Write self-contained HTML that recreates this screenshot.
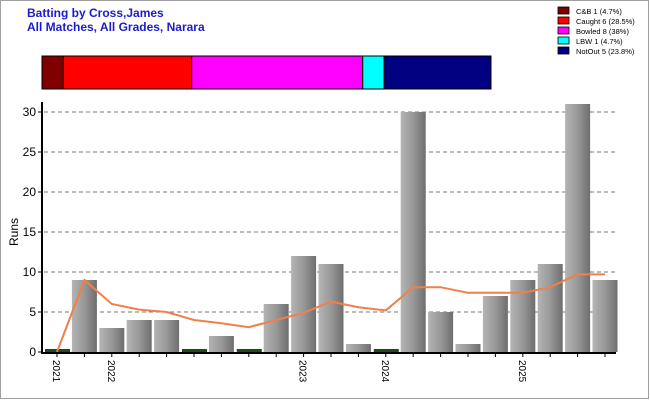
<!DOCTYPE html>
<html><head><meta charset="utf-8"><style>
body{margin:0;background:#fff}
svg{display:block;font-family:"Liberation Sans",Arial,sans-serif}
</style></head><body>
<svg id="c" width="650" height="400">
<defs><linearGradient id="g" x1="0" x2="1" y1="0" y2="0">
<stop offset="0" stop-color="#b4b4b4"/><stop offset="0.5" stop-color="#989898"/><stop offset="1" stop-color="#6e6e6e"/></linearGradient></defs>
<rect x="0.5" y="0.5" width="648" height="398" fill="#fff" stroke="#a0a0a0"/>
<text x="27" y="17" font-size="12" font-weight="bold" fill="#1c1ccc">Batting by Cross,James</text>
<text x="27" y="31" font-size="12" font-weight="bold" fill="#1c1ccc">All Matches, All Grades, Narara</text>
<g id="dism"></g><g id="leg"></g><g id="grid"></g><g id="bars"></g><g id="axes"></g>
<text transform="translate(18,232) rotate(-90)" text-anchor="middle" font-size="12">Runs</text>
</svg>
<script>
const runs=[0,9,3,4,4,0,2,0,6,12,11,1,0,30,5,1,7,9,11,31,9];
const avg=[0,9,6,5.3,5,4,3.6,3.1,4,4.9,6.3,5.6,5.2,8.1,8.1,7.4,7.4,7.4,8.1,9.7,9.7];
const yearLabels=["2021","2022","2023","2024","2025"];
const yearSlots=[0,2,9,12,17];
const yTicks=[0,5,10,15,20,25,30];
const dismNames=["C&B 1 (4.7%)","Caught 6 (28.5%)","Bowled 8 (38%)","LBW 1 (4.7%)","NotOut 5 (23.8%)"];
const dismCounts=[1,6,8,1,5];
const dismColors=["#800000","#ff0000","#ff00ff","#00ffff","#000080"];
const NS="http://www.w3.org/2000/svg";
function mk(p,t,a){const e=document.createElementNS(NS,t);for(const k in a)e.setAttribute(k,a[k]);p.appendChild(e);return e;}
const X=i=>57+i*27.4, Y=v=>352-v*8;
const grid=document.getElementById('grid'),axes=document.getElementById('axes'),bars=document.getElementById('bars');
yTicks.forEach(t=>{
 if(t>0){const l=mk(grid,'line',{x1:44,x2:618,y1:Y(t),y2:Y(t),stroke:'#777','stroke-dasharray':'4,3'});
 
 }
 const tk=mk(axes,'line',{x1:38,x2:42,y1:Y(t),y2:Y(t),stroke:'#000'});
 
 
 const tx=mk(axes,'text',{x:36,y:Y(t)+4,'text-anchor':'end','font-size':12});tx.textContent=t;
 
 
});
runs.forEach((v,i)=>{
 let r;
 if(v===0){r=mk(bars,'rect',{x:X(i)-12,y:Y(0)-3,width:25,height:3,fill:'#1a4d1a'});}
 else r=mk(bars,'rect',{x:X(i)-12.5,y:Y(v),width:25,height:Y(0)-Y(v),fill:'url(#g)'});
 
 
 const tk=mk(axes,'line',{x1:X(i),x2:X(i),y1:352,y2:357,stroke:'#000'});
 
 
});
const pl=mk(bars,'polyline',{points:avg.map((v,i)=>X(i)+','+Y(v)).join(' '),fill:'none',stroke:'#f0804a','stroke-width':2});


const ya=mk(axes,'line',{x1:42,x2:42,y1:102,y2:353,stroke:'#000','stroke-width':2});


const xa=mk(axes,'line',{x1:41,x2:616,y1:353,y2:353,stroke:'#000','stroke-width':2});


yearLabels.forEach((y,k)=>{
 const x=X(yearSlots[k]);
 const t=mk(axes,'text',{transform:`translate(${x-4},360) rotate(90)`,'font-size':10});t.textContent=y;
 
 
});
const dism=document.getElementById('dism'),leg=document.getElementById('leg');
const total=dismCounts.reduce((a,b)=>a+b,0);let cx=42;const W=449;
dismCounts.forEach((c,i)=>{
 const w=c/total*W;
 const r=mk(dism,'rect',{x:cx,y:56,width:w,height:33,fill:dismColors[i],stroke:'#000','stroke-width':1});
 
 
 cx+=w;
 const s=mk(leg,'rect',{x:558,y:7+i*10,width:11,height:7,fill:dismColors[i],stroke:'#000','stroke-width':0.8});
 
 
 const t=mk(leg,'text',{x:576,y:14+i*10,'font-size':7.5});t.textContent=dismNames[i];
 
 
});
</script>
</body></html>
